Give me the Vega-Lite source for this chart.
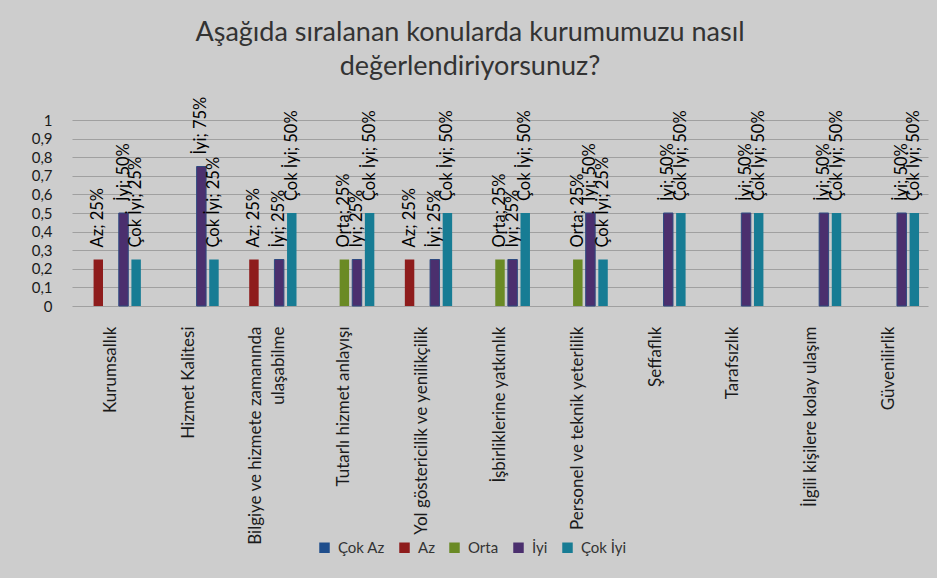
{
  "$schema": "https://vega.github.io/schema/vega-lite/v6.json",
  "autosize": "none",
  "width": 856,
  "height": 186,
  "padding": {"left": 72, "top": 120, "right": 9, "bottom": 272},
  "background": "#cdcdcd",
  "title": {
    "text": ["Aşağıda sıralanan konularda kurumumuzu nasıl", "değerlendiriyorsunuz?"],
    "font": "Lato",
    "fontSize": 27,
    "fontWeight": "normal",
    "color": "#333333",
    "anchor": "middle",
    "frame": "group",
    "dx": -30,
    "offset": 16,
    "lineHeight": 34
  },
  "config": {
    "view": {"stroke": null},
    "font": "Lato"
  },
  "data": {
    "values": [
      {"k": "Kurumsallık", "s": "Az", "v": 0.25},
      {"k": "Kurumsallık", "s": "İyi", "v": 0.5},
      {"k": "Kurumsallık", "s": "Çok İyi", "v": 0.25},
      {"k": "Hizmet Kalitesi", "s": "İyi", "v": 0.75},
      {"k": "Hizmet Kalitesi", "s": "Çok İyi", "v": 0.25},
      {"k": "Bilgiye ve hizmete zamanında ulaşabilme", "s": "Az", "v": 0.25},
      {"k": "Bilgiye ve hizmete zamanında ulaşabilme", "s": "İyi", "v": 0.25},
      {"k": "Bilgiye ve hizmete zamanında ulaşabilme", "s": "Çok İyi", "v": 0.5},
      {"k": "Tutarlı hizmet anlayışı", "s": "Orta", "v": 0.25},
      {"k": "Tutarlı hizmet anlayışı", "s": "İyi", "v": 0.25},
      {"k": "Tutarlı hizmet anlayışı", "s": "Çok İyi", "v": 0.5},
      {"k": "Yol göstericilik ve yenilikçilik", "s": "Az", "v": 0.25},
      {"k": "Yol göstericilik ve yenilikçilik", "s": "İyi", "v": 0.25},
      {"k": "Yol göstericilik ve yenilikçilik", "s": "Çok İyi", "v": 0.5},
      {"k": "İşbirliklerine yatkınlık", "s": "Orta", "v": 0.25},
      {"k": "İşbirliklerine yatkınlık", "s": "İyi", "v": 0.25},
      {"k": "İşbirliklerine yatkınlık", "s": "Çok İyi", "v": 0.5},
      {"k": "Personel ve teknik yeterlilik", "s": "Orta", "v": 0.25},
      {"k": "Personel ve teknik yeterlilik", "s": "İyi", "v": 0.5},
      {"k": "Personel ve teknik yeterlilik", "s": "Çok İyi", "v": 0.25},
      {"k": "Şeffaflık", "s": "İyi", "v": 0.5},
      {"k": "Şeffaflık", "s": "Çok İyi", "v": 0.5},
      {"k": "Tarafsızlık", "s": "İyi", "v": 0.5},
      {"k": "Tarafsızlık", "s": "Çok İyi", "v": 0.5},
      {"k": "İlgili kişilere kolay ulaşım", "s": "İyi", "v": 0.5},
      {"k": "İlgili kişilere kolay ulaşım", "s": "Çok İyi", "v": 0.5},
      {"k": "Güvenilirlik", "s": "İyi", "v": 0.5},
      {"k": "Güvenilirlik", "s": "Çok İyi", "v": 0.5}
    ]
  },
  "transform": [
    {"calculate": "datum.s + '; ' + format(datum.v, '.0%')", "as": "lbl"}
  ],
  "encoding": {
    "x": {
      "field": "k",
      "type": "nominal",
      "sort": null,
      "title": null,
      "scale": {"paddingInner": 0.23, "paddingOuter": 0.115},
      "axis": {
        "labelAngle": 270,
        "labelFontSize": 17,
        "labelColor": "#1a1a1a",
        "labelPadding": 20,
        "labelOffset": {"condition": {"test": "datum.value == 'Bilgiye ve hizmete zamanında ulaşabilme'", "value": -11}, "value": 0},
        "ticks": false,
        "domain": false,
        "labelLimit": 400,
        "labelLineHeight": 23,
        "labelExpr": "datum.label == 'Bilgiye ve hizmete zamanında ulaşabilme' ? ['Bilgiye ve hizmete zamanında', 'ulaşabilme'] : datum.label",
        "encode": {
          "labels": {
            "update": {
              "align": {"signal": "datum.value == 'Bilgiye ve hizmete zamanında ulaşabilme' ? 'center' : 'right'"},
              "dx": {"signal": "datum.value == 'Bilgiye ve hizmete zamanında ulaşabilme' ? -112 : 0"}
            }
          }
        }
      }
    },
    "xOffset": {
      "field": "s",
      "type": "nominal",
      "scale": {"domain": ["Çok Az", "Az", "Orta", "İyi", "Çok İyi"], "paddingInner": 0.25, "paddingOuter": 0}
    },
    "y": {
      "field": "v",
      "type": "quantitative",
      "title": null,
      "scale": {"domain": [0, 1], "nice": false},
      "axis": {
        "values": [0, 0.1, 0.2, 0.3, 0.4, 0.5, 0.6, 0.7, 0.8, 0.9, 1],
        "labelExpr": "replace(format(datum.value, '.1~f'), '.', ',')",
        "labelFontSize": 15,
        "labelColor": "#1a1a1a",
        "labelPadding": 20,
        "ticks": false,
        "domain": false,
        "gridColor": "#a0a0a0",
        "gridWidth": 1.2
      }
    }
  },
  "layer": [
    {
      "mark": {"type": "bar"},
      "encoding": {
        "color": {
          "field": "s",
          "type": "nominal",
          "scale": {
            "domain": ["Çok Az", "Az", "Orta", "İyi", "Çok İyi"],
            "range": ["#1F4E8C", "#8E1C1C", "#6A8A25", "#4B2F6E", "#177C94"]
          },
          "legend": {
            "title": null,
            "orient": "none",
            "direction": "horizontal",
            "legendX": 245,
            "legendY": 420,
            "symbolType": "square",
            "symbolSize": 110,
            "symbolStrokeWidth": 0,
            "labelFontSize": 15,
            "labelColor": "#333333",
            "labelOffset": 6,
            "columnPadding": 12
          }
        },
        "stroke": {
          "condition": {"test": "datum.s == 'İyi'", "value": "#2e4a80"},
          "value": null
        },
        "strokeWidth": {"value": 1}
      }
    },
    {
      "mark": {"type": "text", "angle": 270, "align": "left", "baseline": "middle", "dx": 12, "fontSize": 16.5, "color": "#000000"},
      "encoding": {
        "text": {"field": "lbl"}
      }
    }
  ]
}
